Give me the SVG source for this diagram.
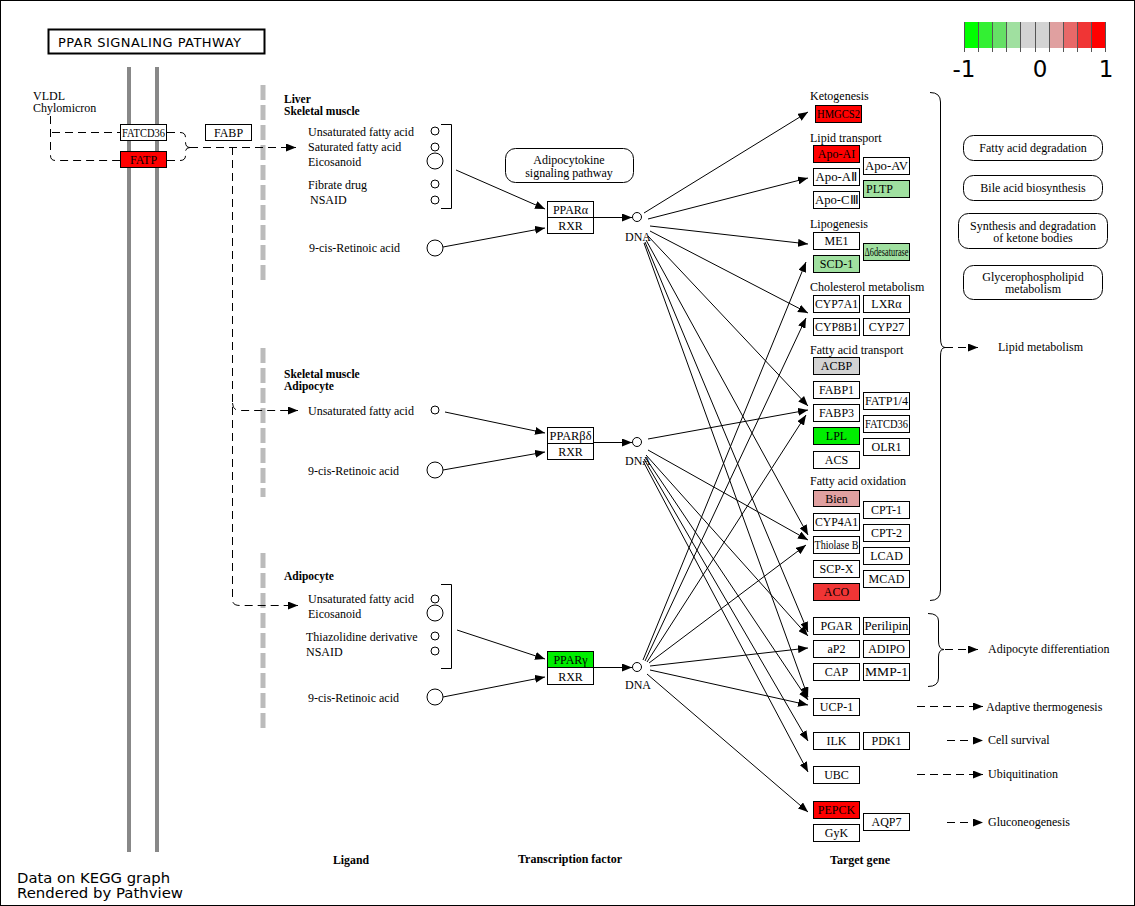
<svg xmlns="http://www.w3.org/2000/svg" width="1135" height="906" viewBox="0 0 1135 906">
<style>
  .t { font-family: "Liberation Serif", "Times New Roman", serif; font-size: 12px; fill: #000; }
  .tc { font-family: "Liberation Serif", "Times New Roman", serif; font-size: 12px; fill: #000; text-anchor: middle; }
  .tb { font-family: "Liberation Serif", "Times New Roman", serif; font-size: 11.5px; font-weight: bold; fill: #000; }
  .gene { fill: #fff; stroke: #000; stroke-width: 1; }
  .cpd { fill: #fff; stroke: #000; stroke-width: 1; }
  .edge { stroke: #000; stroke-width: 1; fill: none; marker-end: url(#ah); }
  .dash { stroke: #000; stroke-width: 1; fill: none; stroke-dasharray: 8 5; }
  .dashA { stroke: #000; stroke-width: 1; fill: none; stroke-dasharray: 8 5; marker-end: url(#ah); }
  .plain { stroke: #000; stroke-width: 1; fill: none; }
  .path { fill: #fff; stroke: #000; stroke-width: 1; }
  .mem { stroke: #888; stroke-width: 4; }
  .bar { stroke: #bbb; stroke-width: 5; stroke-dasharray: 15 5; }
  .sans { font-family: "DejaVu Sans", "Liberation Sans", sans-serif; fill: #000; }
</style>
<defs>
  <marker id="ah" markerWidth="10" markerHeight="8" refX="10" refY="4" orient="auto" markerUnits="userSpaceOnUse">
    <path d="M0,0 L10,4 L0,8 z" fill="#000"/>
  </marker>
</defs>

<!-- frame -->
<rect x="0.5" y="0.5" width="1134" height="905" fill="#fff" stroke="#000" stroke-width="1"/>

<!-- title -->
<g id="title">
  <rect x="48.5" y="29.5" width="216" height="24" fill="#fff" stroke="#000" stroke-width="2"/>
  <text x="58" y="47" class="sans" font-family="Liberation Sans, sans-serif" font-size="13" textLength="183" lengthAdjust="spacing">PPAR SIGNALING PATHWAY</text>
</g>

<!-- membrane -->
<g id="membrane">
  <line x1="129" y1="67" x2="129" y2="852" class="mem"/>
  <line x1="157" y1="67" x2="157" y2="852" class="mem"/>
</g>

<!-- tissue separators -->
<g id="separators">
  <line x1="263" y1="85" x2="263" y2="280" class="bar"/>
  <line x1="263" y1="348" x2="263" y2="497" class="bar"/>
  <line x1="263" y1="553" x2="263" y2="730" class="bar"/>
</g>

<!-- legend -->
<g id="legend">
  <rect x="964" y="22" width="14.2" height="26" fill="#00ff00"/>
  <rect x="978.2" y="22" width="14.2" height="26" fill="#33f033"/>
  <rect x="992.4" y="22" width="14.2" height="26" fill="#66e066"/>
  <rect x="1006.6" y="22" width="14.2" height="26" fill="#a0e0a0"/>
  <rect x="1020.8" y="22" width="14.2" height="26" fill="#d3d3d3"/>
  <rect x="1035" y="22" width="14.2" height="26" fill="#d3d3d3"/>
  <rect x="1049.2" y="22" width="14.2" height="26" fill="#e0a0a0"/>
  <rect x="1063.4" y="22" width="14.2" height="26" fill="#e86868"/>
  <rect x="1077.6" y="22" width="14.2" height="26" fill="#f03535"/>
  <rect x="1091.8" y="22" width="14.2" height="26" fill="#ff0000"/>
  <g stroke="#555" stroke-width="1">
    <line x1="964.5" y1="22" x2="964.5" y2="52"/>
    <line x1="978.5" y1="22" x2="978.5" y2="52"/>
    <line x1="992.5" y1="22" x2="992.5" y2="52"/>
    <line x1="1006.5" y1="22" x2="1006.5" y2="52"/>
    <line x1="1020.5" y1="22" x2="1020.5" y2="52"/>
    <line x1="1035.5" y1="22" x2="1035.5" y2="52"/>
    <line x1="1049.5" y1="22" x2="1049.5" y2="52"/>
    <line x1="1063.5" y1="22" x2="1063.5" y2="52"/>
    <line x1="1077.5" y1="22" x2="1077.5" y2="52"/>
    <line x1="1091.5" y1="22" x2="1091.5" y2="52"/>
    <line x1="1105.5" y1="22" x2="1105.5" y2="52"/>
  </g>
  <text x="964" y="77" class="sans" font-size="23" text-anchor="middle">-1</text>
  <text x="1040" y="77" class="sans" font-size="23" text-anchor="middle">0</text>
  <text x="1106" y="77" class="sans" font-size="23" text-anchor="middle">1</text>
</g>

<!-- connectors -->
<g id="connectors">
  <!-- extracellular lipoproteins to transporters -->
  <path d="M50.5,116 L50.5,155.5 Q50.5,160.5 55.5,160.5 L120,160.5" class="dash"/>
  <line x1="52" y1="132.5" x2="120" y2="132.5" class="dash"/>
  <path d="M167,132.5 L180,132.5 Q185.5,132.5 185.5,137.5 L185.5,142 Q185.5,147.5 190,147.5" class="dash"/>
  <path d="M167,160.5 L180,160.5 Q185.5,160.5 185.5,155.5 L185.5,152 Q185.5,147.5 190,147.5" class="dash"/>
  <line x1="190" y1="147.5" x2="296" y2="147.5" class="dashA"/>
  <path d="M232.5,147 L232.5,600 Q232.5,605.5 240,605.5 L298,605.5" class="dashA"/>
  <path d="M232.5,403 Q232.5,410.5 240,410.5 L298,410.5" class="dashA"/>

  <!-- ligands to receptors -->
  <line x1="456" y1="170" x2="545" y2="209" class="edge"/>
  <line x1="443" y1="247" x2="545" y2="228" class="edge"/>
  <line x1="445" y1="412" x2="545" y2="433" class="edge"/>
  <line x1="443" y1="470" x2="545" y2="452" class="edge"/>
  <line x1="457" y1="630" x2="545" y2="659" class="edge"/>
  <line x1="443" y1="697" x2="545" y2="677" class="edge"/>

  <!-- receptors to DNA -->
  <line x1="594" y1="217.5" x2="632" y2="217.5" class="edge"/>
  <line x1="594" y1="442.5" x2="632" y2="442.5" class="edge"/>
  <line x1="594" y1="667.5" x2="632" y2="667.5" class="edge"/>

  <!-- PPARalpha targets -->
  <line x1="644" y1="213" x2="808" y2="112" class="edge"/>
  <line x1="648" y1="219" x2="808" y2="178" class="edge"/>
  <line x1="650" y1="226" x2="808" y2="244" class="edge"/>
  <line x1="650" y1="231" x2="808" y2="313" class="edge"/>
  <line x1="648" y1="236" x2="808" y2="406" class="edge"/>
  <line x1="646" y1="240" x2="808" y2="535" class="edge"/>
  <line x1="645" y1="242" x2="808" y2="632" class="edge"/>
  <line x1="644" y1="243" x2="808" y2="697" class="edge"/>

  <!-- PPARbeta/delta targets -->
  <line x1="648" y1="439" x2="808" y2="410" class="edge"/>
  <line x1="648" y1="450" x2="808" y2="540" class="edge"/>
  <line x1="646" y1="455" x2="808" y2="636" class="edge"/>
  <line x1="645" y1="457" x2="808" y2="700" class="edge"/>
  <line x1="644" y1="459" x2="808" y2="741" class="edge"/>
  <line x1="643" y1="461" x2="808" y2="772" class="edge"/>

  <!-- PPARgamma targets -->
  <line x1="643" y1="660" x2="806" y2="262" class="edge"/>
  <line x1="645" y1="661" x2="806" y2="318" class="edge"/>
  <line x1="647" y1="662" x2="806" y2="415" class="edge"/>
  <line x1="649" y1="663" x2="806" y2="545" class="edge"/>
  <line x1="650" y1="666" x2="808" y2="648" class="edge"/>
  <line x1="650" y1="670" x2="808" y2="705" class="edge"/>
  <line x1="647" y1="674" x2="808" y2="812" class="edge"/>

  <!-- outcome braces -->
  <path d="M930,92.5 Q940.5,92.5 940.5,102 L940.5,338 Q940.5,347.5 945,347.5 Q940.5,347.5 940.5,356 L940.5,590 Q940.5,600.5 930,600.5" class="plain"/>
  <path d="M928,613.5 Q938.5,613.5 938.5,621 L938.5,641 Q938.5,649.5 944,649.5 Q938.5,649.5 938.5,657 L938.5,678 Q938.5,686.5 928,686.5" class="plain"/>
  <line x1="945" y1="347.5" x2="978" y2="347.5" class="dashA"/>
  <line x1="945" y1="649.5" x2="978" y2="649.5" class="dashA"/>
  <line x1="917" y1="706.5" x2="983" y2="706.5" class="dashA"/>
  <line x1="947" y1="740.5" x2="983" y2="740.5" class="dashA"/>
  <line x1="917" y1="774.5" x2="983" y2="774.5" class="dashA"/>
  <line x1="947" y1="822.5" x2="983" y2="822.5" class="dashA"/>
</g>

<!-- extracellular -->
<g id="lipoproteins">
  <text x="33" y="100" class="t" font-size="11.5">VLDL</text>
  <text x="33" y="112" class="t" font-size="11.5">Chylomicron</text>
</g>
<g id="FATCD36_m"><rect x="120.5" y="124.5" width="46" height="16" class="gene"/><text x="143.5" y="136.5" class="tc" textLength="43" lengthAdjust="spacingAndGlyphs">FATCD36</text></g>
<g id="FATP_m"><rect x="120.5" y="151.5" width="46" height="16" class="gene" style="fill:#ff0000"/><text x="143.5" y="163.5" class="tc">FATP</text></g>
<g id="FABP_m"><rect x="205.5" y="124.5" width="46" height="16" class="gene"/><text x="228.5" y="136.5" class="tc">FABP</text></g>

<!-- ligand groups -->
<g id="tissue1">
  <text x="284" y="103" class="tb">Liver</text>
  <text x="284" y="115" class="tb">Skeletal muscle</text>
  <text x="308" y="136" class="t">Unsaturated fatty acid</text>
  <text x="308" y="151" class="t">Saturated fatty acid</text>
  <text x="308" y="166" class="t">Eicosanoid</text>
  <text x="308" y="189" class="t">Fibrate drug</text>
  <text x="310" y="204" class="t">NSAID</text>
  <text x="309" y="252" class="t">9-cis-Retinoic acid</text>
  <circle cx="435" cy="131" r="4" class="cpd"/>
  <circle cx="435" cy="147" r="4" class="cpd"/>
  <circle cx="435" cy="161" r="8" class="cpd"/>
  <circle cx="435" cy="184" r="4" class="cpd"/>
  <circle cx="435" cy="200" r="4" class="cpd"/>
  <circle cx="435" cy="248" r="8" class="cpd"/>
  <path d="M441,124.5 L451.5,124.5 L451.5,208.5 L441,208.5" class="plain"/>
</g>
<g id="tissue2">
  <text x="284" y="378" class="tb">Skeletal muscle</text>
  <text x="284" y="390" class="tb">Adipocyte</text>
  <text x="308" y="415" class="t">Unsaturated fatty acid</text>
  <text x="308" y="475" class="t">9-cis-Retinoic acid</text>
  <circle cx="435" cy="410" r="4" class="cpd"/>
  <circle cx="435" cy="470" r="8" class="cpd"/>
</g>
<g id="tissue3">
  <text x="284" y="580" class="tb">Adipocyte</text>
  <text x="308" y="603" class="t">Unsaturated fatty acid</text>
  <text x="308" y="618" class="t">Eicosanoid</text>
  <text x="306" y="641" class="t">Thiazolidine derivative</text>
  <text x="306" y="656" class="t">NSAID</text>
  <text x="308" y="702" class="t">9-cis-Retinoic acid</text>
  <circle cx="435" cy="599" r="4" class="cpd"/>
  <circle cx="435" cy="613" r="8" class="cpd"/>
  <circle cx="435" cy="636" r="4" class="cpd"/>
  <circle cx="435" cy="651" r="4" class="cpd"/>
  <circle cx="435" cy="697" r="8" class="cpd"/>
  <path d="M441,584.5 L451.5,584.5 L451.5,668.5 L441,668.5" class="plain"/>
</g>

<!-- receptors -->
<g id="PPARa"><rect x="547.5" y="201.5" width="46" height="16" class="gene"/><text x="570.5" y="213.5" class="tc">PPARα</text></g>
<g id="RXR1"><rect x="547.5" y="217.5" width="46" height="16" class="gene"/><text x="570.5" y="229.5" class="tc">RXR</text></g>
<g id="PPARbd"><rect x="547.5" y="427.5" width="46" height="16" class="gene"/><text x="570.5" y="439.5" class="tc" textLength="42" lengthAdjust="spacingAndGlyphs">PPARβδ</text></g>
<g id="RXR2"><rect x="547.5" y="443.5" width="46" height="16" class="gene"/><text x="570.5" y="455.5" class="tc">RXR</text></g>
<g id="PPARg"><rect x="547.5" y="651.5" width="46" height="16" class="gene" style="fill:#00ee00"/><text x="570.5" y="663.5" class="tc">PPARγ</text></g>
<g id="RXR3"><rect x="547.5" y="667.5" width="46" height="17" class="gene"/><text x="570.5" y="680.5" class="tc">RXR</text></g>

<g id="adipocytokine">
  <rect x="505.5" y="148.5" width="128" height="34" rx="10" class="path"/>
  <text x="569" y="164" class="tc">Adipocytokine</text>
  <text x="569" y="177" class="tc">signaling pathway</text>
</g>

<!-- DNA response elements -->
<g id="DNA1"><circle cx="637" cy="217" r="4.5" class="cpd"/><text x="638" y="241" class="tc">DNA</text></g>
<g id="DNA2"><circle cx="637" cy="442" r="4.5" class="cpd"/><text x="638" y="465" class="tc">DNA</text></g>
<g id="DNA3"><circle cx="637" cy="667" r="4.5" class="cpd"/><text x="638" y="689" class="tc">DNA</text></g>

<!-- target gene categories -->
<g id="categories">
  <text x="810" y="100" class="t">Ketogenesis</text>
  <text x="810" y="142" class="t">Lipid transport</text>
  <text x="810" y="228" class="t">Lipogenesis</text>
  <text x="810" y="291" class="t">Cholesterol metabolism</text>
  <text x="810" y="354" class="t">Fatty acid transport</text>
  <text x="810" y="485" class="t">Fatty acid oxidation</text>
</g>

<!-- target genes -->
<g id="HMGCS2"><rect x="815.5" y="105.5" width="46" height="17" class="gene" style="fill:#ff0000"/><text x="838.5" y="118" class="tc" textLength="43" lengthAdjust="spacingAndGlyphs">HMGCS2</text></g>
<g id="ApoAI"><rect x="813.5" y="145.5" width="46" height="17" class="gene" style="fill:#ff0000"/><text x="836.5" y="158" class="tc">Apo-AI</text></g>
<g id="ApoAV"><rect x="863.5" y="157.5" width="46" height="17" class="gene"/><text x="886.5" y="170" class="tc" textLength="43" lengthAdjust="spacingAndGlyphs">Apo-AV</text></g>
<g id="ApoAII"><rect x="813.5" y="168.5" width="46" height="17" class="gene"/><text x="836.5" y="181" class="tc" textLength="42" lengthAdjust="spacingAndGlyphs">Apo-AⅡ</text></g>
<g id="PLTP"><rect x="863.5" y="180.5" width="46" height="17" class="gene" style="fill:#a0e0a0"/><text x="866" y="193" class="t">PLTP</text></g>
<g id="ApoCIII"><rect x="813.5" y="191.5" width="46" height="17" class="gene"/><text x="836.5" y="204" class="tc" textLength="43" lengthAdjust="spacingAndGlyphs">Apo-CⅢ</text></g>
<g id="ME1"><rect x="813.5" y="232.5" width="46" height="17" class="gene"/><text x="836.5" y="245" class="tc">ME1</text></g>
<g id="D6desaturase"><rect x="863.5" y="243.5" width="46" height="17" class="gene" style="fill:#a0e0a0"/><text x="886.5" y="256" class="tc" textLength="44" lengthAdjust="spacingAndGlyphs">Δ6desaturase</text></g>
<g id="SCD1"><rect x="813.5" y="255.5" width="46" height="17" class="gene" style="fill:#a0e0a0"/><text x="836.5" y="268" class="tc">SCD-1</text></g>
<g id="CYP7A1"><rect x="813.5" y="295.5" width="46" height="17" class="gene"/><text x="836.5" y="308" class="tc" textLength="43" lengthAdjust="spacingAndGlyphs">CYP7A1</text></g>
<g id="LXRa"><rect x="863.5" y="295.5" width="46" height="17" class="gene"/><text x="886.5" y="308" class="tc">LXRα</text></g>
<g id="CYP8B1"><rect x="813.5" y="318.5" width="46" height="17" class="gene"/><text x="836.5" y="331" class="tc" textLength="43" lengthAdjust="spacingAndGlyphs">CYP8B1</text></g>
<g id="CYP27"><rect x="863.5" y="318.5" width="46" height="17" class="gene"/><text x="886.5" y="331" class="tc">CYP27</text></g>
<g id="ACBP"><rect x="813.5" y="357.5" width="46" height="17" class="gene" style="fill:#d3d3d3"/><text x="836.5" y="370" class="tc">ACBP</text></g>
<g id="FABP1"><rect x="813.5" y="381.5" width="46" height="17" class="gene"/><text x="836.5" y="394" class="tc">FABP1</text></g>
<g id="FATP14"><rect x="863.5" y="392.5" width="46" height="17" class="gene"/><text x="886.5" y="405" class="tc" textLength="43" lengthAdjust="spacingAndGlyphs">FATP1/4</text></g>
<g id="FABP3"><rect x="813.5" y="404.5" width="46" height="17" class="gene"/><text x="836.5" y="417" class="tc">FABP3</text></g>
<g id="FATCD36"><rect x="863.5" y="415.5" width="46" height="17" class="gene"/><text x="886.5" y="428" class="tc" textLength="43" lengthAdjust="spacingAndGlyphs">FATCD36</text></g>
<g id="LPL"><rect x="813.5" y="427.5" width="46" height="17" class="gene" style="fill:#00ee00"/><text x="836.5" y="440" class="tc">LPL</text></g>
<g id="OLR1"><rect x="863.5" y="438.5" width="46" height="17" class="gene"/><text x="886.5" y="451" class="tc">OLR1</text></g>
<g id="ACS"><rect x="813.5" y="451.5" width="46" height="17" class="gene"/><text x="836.5" y="464" class="tc">ACS</text></g>
<g id="Bien"><rect x="813.5" y="490.5" width="46" height="16" class="gene" style="fill:#e0a0a0"/><text x="836.5" y="502.5" class="tc">Bien</text></g>
<g id="CPT1"><rect x="863.5" y="501.5" width="46" height="17" class="gene"/><text x="886.5" y="514" class="tc">CPT-1</text></g>
<g id="CYP4A1"><rect x="813.5" y="513.5" width="46" height="17" class="gene"/><text x="836.5" y="526" class="tc" textLength="43" lengthAdjust="spacingAndGlyphs">CYP4A1</text></g>
<g id="CPT2"><rect x="863.5" y="524.5" width="46" height="17" class="gene"/><text x="886.5" y="537" class="tc">CPT-2</text></g>
<g id="ThiolaseB"><rect x="813.5" y="536.5" width="46" height="17" class="gene"/><text x="836.5" y="549" class="tc" textLength="44" lengthAdjust="spacingAndGlyphs">Thiolase B</text></g>
<g id="LCAD"><rect x="863.5" y="547.5" width="46" height="17" class="gene"/><text x="886.5" y="560" class="tc">LCAD</text></g>
<g id="SCPX"><rect x="813.5" y="560.5" width="46" height="17" class="gene"/><text x="836.5" y="573" class="tc">SCP-X</text></g>
<g id="MCAD"><rect x="863.5" y="570.5" width="46" height="17" class="gene"/><text x="886.5" y="583" class="tc">MCAD</text></g>
<g id="ACO"><rect x="813.5" y="583.5" width="46" height="17" class="gene" style="fill:#f03535"/><text x="836.5" y="596" class="tc">ACO</text></g>
<g id="PGAR"><rect x="813.5" y="617.5" width="46" height="17" class="gene"/><text x="836.5" y="630" class="tc">PGAR</text></g>
<g id="Perilipin"><rect x="863.5" y="617.5" width="46" height="17" class="gene"/><text x="886.5" y="630" class="tc" textLength="44" lengthAdjust="spacingAndGlyphs">Perilipin</text></g>
<g id="aP2"><rect x="813.5" y="640.5" width="46" height="17" class="gene"/><text x="836.5" y="653" class="tc">aP2</text></g>
<g id="ADIPO"><rect x="863.5" y="640.5" width="46" height="17" class="gene"/><text x="886.5" y="653" class="tc">ADIPO</text></g>
<g id="CAP"><rect x="813.5" y="663.5" width="46" height="17" class="gene"/><text x="836.5" y="676" class="tc">CAP</text></g>
<g id="MMP1"><rect x="863.5" y="663.5" width="46" height="17" class="gene"/><text x="886.5" y="676" class="tc" textLength="43" lengthAdjust="spacingAndGlyphs">MMP-1</text></g>
<g id="UCP1"><rect x="813.5" y="698.5" width="46" height="17" class="gene"/><text x="836.5" y="711" class="tc">UCP-1</text></g>
<g id="ILK"><rect x="813.5" y="732.5" width="46" height="17" class="gene"/><text x="836.5" y="745" class="tc">ILK</text></g>
<g id="PDK1"><rect x="863.5" y="732.5" width="46" height="17" class="gene"/><text x="886.5" y="745" class="tc">PDK1</text></g>
<g id="UBC"><rect x="813.5" y="766.5" width="46" height="17" class="gene"/><text x="836.5" y="779" class="tc">UBC</text></g>
<g id="PEPCK"><rect x="813.5" y="801.5" width="46" height="17" class="gene" style="fill:#ff0000"/><text x="836.5" y="814" class="tc">PEPCK</text></g>
<g id="AQP7"><rect x="863.5" y="813.5" width="46" height="17" class="gene"/><text x="886.5" y="826" class="tc">AQP7</text></g>
<g id="GyK"><rect x="813.5" y="824.5" width="46" height="17" class="gene"/><text x="836.5" y="837" class="tc">GyK</text></g>

<!-- related pathways -->
<g id="FAdegradation"><rect x="963.5" y="135.5" width="139" height="25" rx="10" class="path"/><text x="1033" y="152" class="tc">Fatty acid degradation</text></g>
<g id="BileAcid"><rect x="963.5" y="175.5" width="139" height="25" rx="10" class="path"/><text x="1033" y="192" class="tc">Bile acid biosynthesis</text></g>
<g id="KetoneBodies"><rect x="958.5" y="213.5" width="149" height="35" rx="10" class="path"/><text x="1033" y="230" class="tc">Synthesis and degradation</text><text x="1033" y="242" class="tc">of ketone bodies</text></g>
<g id="Glycerophospholipid"><rect x="963.5" y="265.5" width="139" height="34" rx="10" class="path"/><text x="1033" y="281" class="tc">Glycerophospholipid</text><text x="1033" y="293" class="tc">metabolism</text></g>

<!-- outcomes -->
<g id="outcomes">
  <text x="998" y="351" class="t">Lipid metabolism</text>
  <text x="988" y="653" class="t">Adipocyte differentiation</text>
  <text x="986" y="711" class="t">Adaptive thermogenesis</text>
  <text x="988" y="744" class="t">Cell survival</text>
  <text x="988" y="778" class="t">Ubiquitination</text>
  <text x="988" y="826" class="t">Gluconeogenesis</text>
</g>

<!-- column captions -->
<g id="captions">
  <text x="351" y="864" class="tb" font-size="10" text-anchor="middle" textLength="36" lengthAdjust="spacingAndGlyphs">Ligand</text>
  <text x="570" y="863" class="tb" font-size="10" text-anchor="middle" textLength="104" lengthAdjust="spacingAndGlyphs">Transcription factor</text>
  <text x="860" y="864" class="tb" font-size="10" text-anchor="middle" textLength="60" lengthAdjust="spacingAndGlyphs">Target gene</text>
</g>

<g id="footer">
  <text x="17" y="883" class="sans" font-size="14" textLength="153" lengthAdjust="spacingAndGlyphs">Data on KEGG graph</text>
  <text x="17" y="898" class="sans" font-size="14" textLength="166" lengthAdjust="spacingAndGlyphs">Rendered by Pathview</text>
</g>
</svg>
